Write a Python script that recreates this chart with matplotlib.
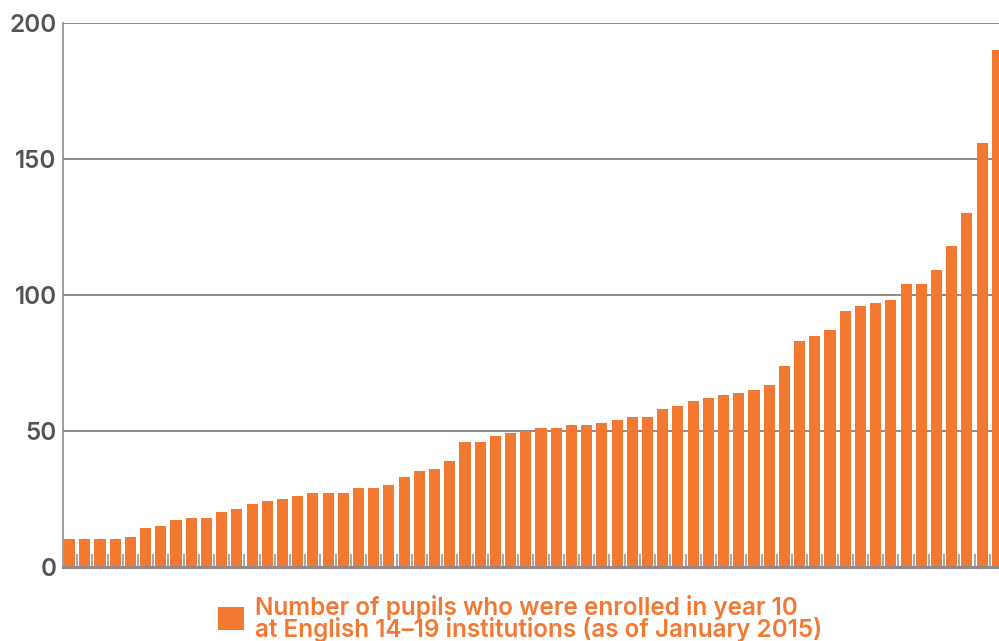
import numpy as np
import matplotlib.pyplot as plt
from matplotlib.patches import Patch

# pupils enrolled in year 10, one bar per institution (sorted)
pupils = [10, 10, 10, 10, 11, 14, 15, 17, 18, 18,
          20, 21, 23, 24, 25, 26, 27, 27, 27, 29,
          29, 30, 33, 35, 36, 39, 46, 46, 48, 49,
          50, 51, 51, 52, 52, 53, 54, 55, 55, 58,
          59, 61, 62, 63, 64, 65, 67, 74, 83, 85,
          87, 94, 96, 97, 98, 104, 104, 109, 118, 130,
          156, 190]
yticks = [0, 50, 100, 150, 200]
legend_label = "Number of pupils who were enrolled in year 10\nat English 14\u201319 institutions (as of January 2015)"

orange = "#F37831"
grey = "#8E8984"

plt.rcParams['font.family'] = ['Inter', 'Liberation Sans', 'DejaVu Sans']

fig = plt.figure(figsize=(9.99, 6.41), dpi=100)
ax = fig.add_axes([63 / 999, 1 - 566.5 / 641, 936 / 999, (566.5 - 23.3) / 641])

x = np.arange(len(pupils))
bars = ax.bar(x, pupils, width=0.73, color=orange, zorder=3)

ax.set_xlim(-0.43, 61.11)
ax.set_ylim(0, 200)

ax.set_yticks(yticks)
ax.set_yticklabels([str(t) for t in yticks], fontsize=17.5, color="#555555",
                   fontweight='semibold')
ax.tick_params(axis='y', length=0, pad=4.5)
ax.yaxis.grid(True, color=grey, linewidth=1.4, zorder=1)

# small marks between bars at the bottom
ax.set_xticks(x[:-1] + 0.5)
ax.set_xticklabels([])
ax.tick_params(axis='x', direction='in', length=9.5, width=1.4, color="#A8A5A2")

for side in ['top', 'right']:
    ax.spines[side].set_visible(False)
ax.spines['left'].set_color(grey)
ax.spines['left'].set_linewidth(1.2)
ax.spines['bottom'].set_color(grey)
ax.spines['bottom'].set_linewidth(2.2)
ax.spines['bottom'].set_zorder(4)

handle = Patch(facecolor=orange, edgecolor='none')
leg = fig.legend([handle], [legend_label], loc='center left',
                 bbox_to_anchor=(206 / 999, 1 - 618 / 641), frameon=False,
                 prop={'size': 17.5, 'weight': 'semibold'}, labelcolor=orange,
                 handlelength=1.05, handleheight=1.05, handletextpad=0.45,
                 borderpad=0, labelspacing=0)
for t in leg.get_texts():
    t.set_linespacing(0.85)

fig.savefig("out.png", dpi=100)
